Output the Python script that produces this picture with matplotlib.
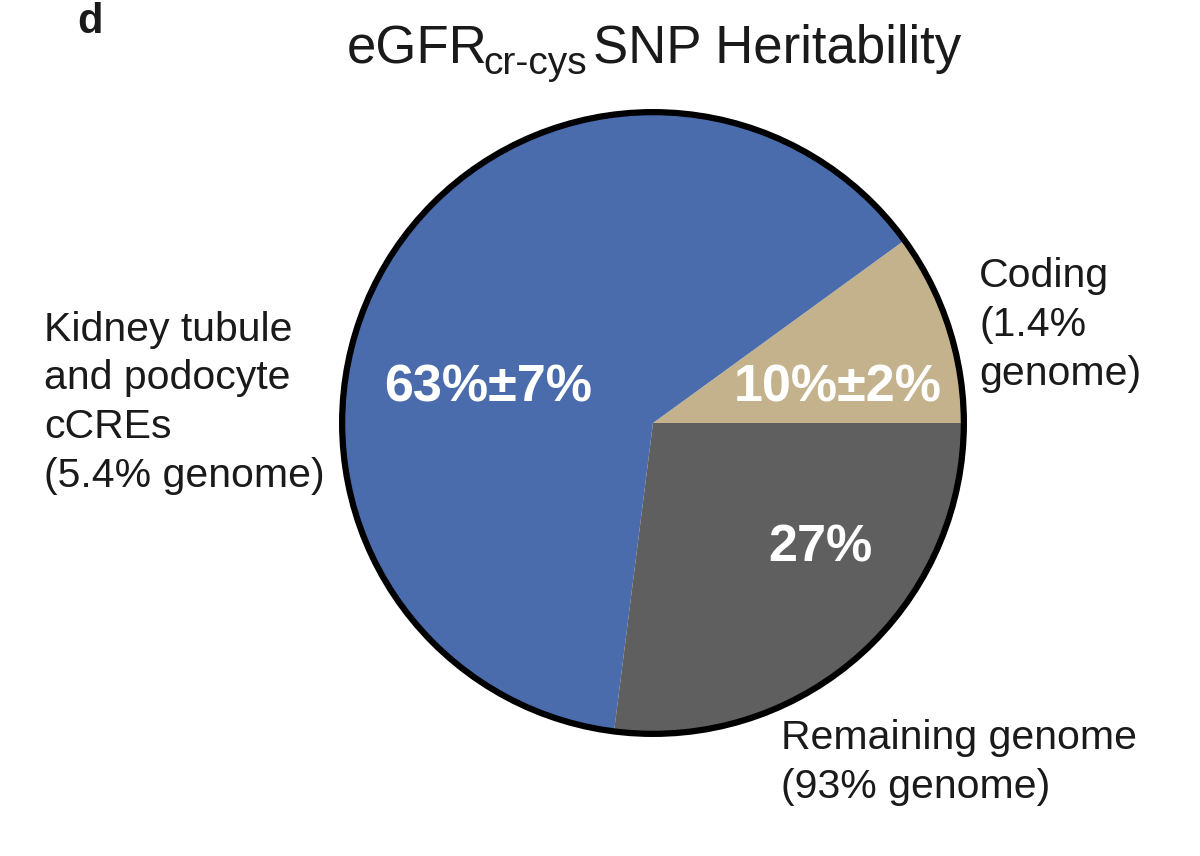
import matplotlib.pyplot as plt
from matplotlib.patches import Circle

plt.rcParams['font.family'] = ['Liberation Sans', 'DejaVu Sans']

# data
categories = ['Coding', 'Kidney tubule and podocyte cCREs', 'Remaining genome']
heritability = [10, 63, 27]          # % of SNP heritability
heritability_err = [2, 7, None]      # +/- %
genome_share = ['1.4%', '5.4%', '93%']
colors = ['#C4B28C', '#4A6CAD', '#5F5F5F']

W, H = 1200, 856
fig = plt.figure(figsize=(W / 100, H / 100), dpi=100)


def fx(x):
    return x / W


def fy(y):
    return 1 - y / H


# pie centre and radius in pixels
cx, cy, R = 653, 423, 314
ax = fig.add_axes([fx(cx - R), fy(cy + R), 2 * R / W, 2 * R / H])
ax.pie(heritability, colors=colors, startangle=0, counterclock=True,
       radius=0.99, wedgeprops=dict(linewidth=0))
ax.add_patch(Circle((0, 0), 0.99, fill=False, edgecolor='black', linewidth=4.5))
ax.set_xlim(-1, 1)
ax.set_ylim(-1, 1)
ax.set_aspect('auto')
ax.axis('off')

# percentage labels inside the wedges (pixel positions of baselines)
pct_pos = [(838, 402), (488, 402), (820, 562)]
for val, err, (px, py) in zip(heritability, heritability_err, pct_pos):
    s = f'{val}%' if err is None else f'{val}%\u00b1{err}%'
    fig.text(fx(px), fy(py), s, color='white', fontsize=37.5, fontweight='bold',
             ha='center', va='baseline')

# outside labels (position = left edge, baseline of the last line)
txt_color = '#1a1a1a'
outer = [
    (f'Coding\n({genome_share[0]}\ngenome)', 979, 385),
    (f'Kidney tubule\nand podocyte\ncCREs\n({genome_share[1]} genome)', 44, 487),
    (f'Remaining genome\n({genome_share[2]} genome)', 781, 798),
]
for s, px, py in outer:
    fig.text(fx(px), fy(py), s, color=txt_color, fontsize=29.5,
             ha='left', va='baseline', linespacing=1.36)

# title with subscript
fig.text(fx(347), fy(63), 'eGFR', fontsize=38, color=txt_color,
         ha='left', va='baseline')
fig.text(fx(483), fy(74), 'cr-cys', fontsize=28, color=txt_color,
         ha='left', va='baseline')
fig.text(fx(593), fy(63), 'SNP Heritability', fontsize=38, color=txt_color,
         ha='left', va='baseline')

fig.text(fx(77), fy(33), 'd', fontsize=30, fontweight='bold', color=txt_color,
         ha='left', va='baseline')

fig.savefig('out.png', dpi=100)
